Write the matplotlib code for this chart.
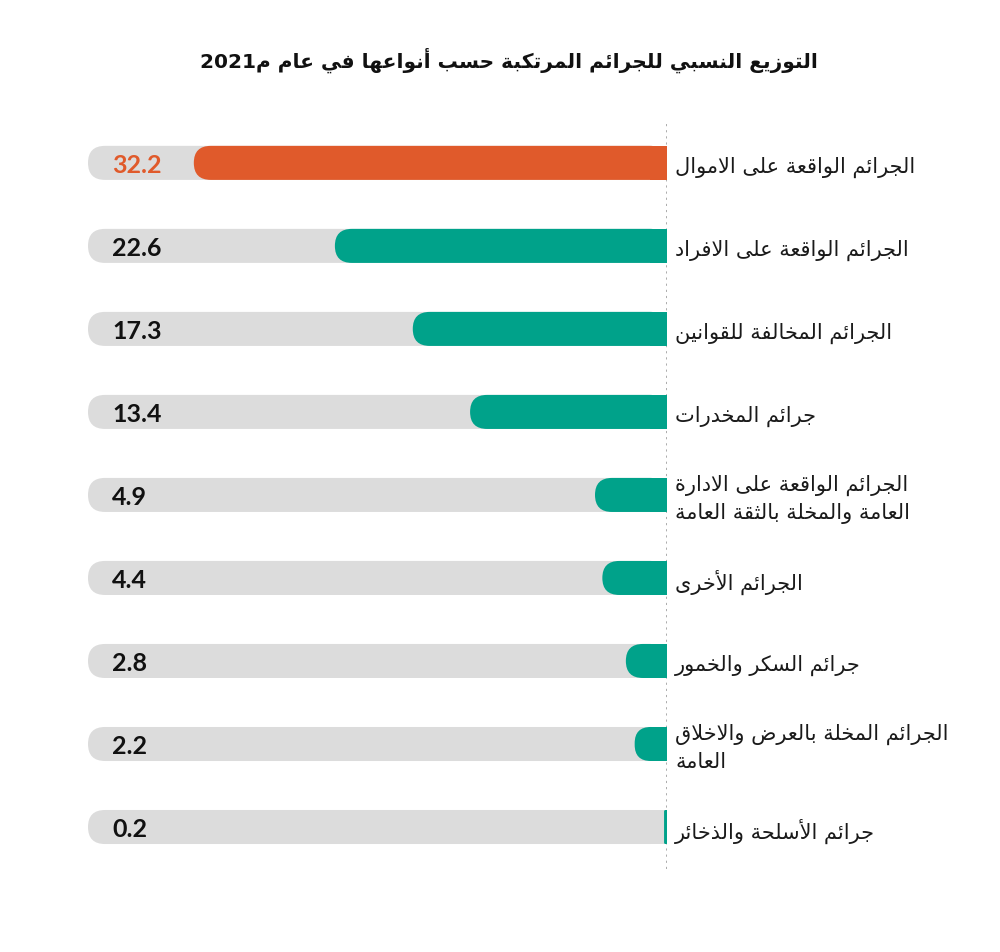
import matplotlib
matplotlib.use("Agg")
import matplotlib.pyplot as plt
from matplotlib.patches import FancyBboxPatch, Rectangle
from matplotlib.transforms import blended_transform_factory

title = "التوزيع النسبي للجرائم المرتكبة حسب أنواعها في عام 2021م"

categories = [
    "الجرائم الواقعة على الاموال",
    "الجرائم الواقعة على الافراد",
    "الجرائم المخالفة للقوانين",
    "جرائم المخدرات",
    "الجرائم الواقعة على الادارة\nالعامة والمخلة بالثقة العامة",
    "الجرائم الأخرى",
    "جرائم السكر والخمور",
    "الجرائم المخلة بالعرض والاخلاق\nالعامة",
    "جرائم الأسلحة والذخائر",
]
values = [32.2, 22.6, 17.3, 13.4, 4.9, 4.4, 2.8, 2.2, 0.2]

ORANGE = '#e05a2b'
TEAL = '#00a28a'
TRACK_GRAY = '#dcdcdc'
TRACK = 39.4

# --- tiny arabic shaper (matplotlib has no RTL / joining support) ---
DUAL = {'ئ': 0xFE89, 'ب': 0xFE8F, 'ت': 0xFE95, 'ث': 0xFE99, 'ج': 0xFE9D,
        'ح': 0xFEA1, 'خ': 0xFEA5, 'س': 0xFEB1, 'ش': 0xFEB5, 'ص': 0xFEB9,
        'ض': 0xFEBD, 'ط': 0xFEC1, 'ظ': 0xFEC5, 'ع': 0xFEC9, 'غ': 0xFECD,
        'ف': 0xFED1, 'ق': 0xFED5, 'ك': 0xFED9, 'ل': 0xFEDD, 'م': 0xFEE1,
        'ن': 0xFEE5, 'ه': 0xFEE9, 'ي': 0xFEF1}
RIGHT = {'آ': 0xFE81, 'أ': 0xFE83, 'ؤ': 0xFE85, 'إ': 0xFE87, 'ا': 0xFE8D,
         'ة': 0xFE93, 'د': 0xFEA9, 'ذ': 0xFEAB, 'ر': 0xFEAD, 'ز': 0xFEAF,
         'و': 0xFEED, 'ى': 0xFEEF}
LAM_ALEF = {'آ': 0xFEF5, 'أ': 0xFEF7, 'إ': 0xFEF9, 'ا': 0xFEFB}


def jtype(c):
    if isinstance(c, tuple) or c in RIGHT:
        return 'R'
    if c in DUAL:
        return 'D'
    return None


def shape_word(word):
    chars = []
    i = 0
    while i < len(word):
        if word[i] == 'ل' and i + 1 < len(word) and word[i + 1] in LAM_ALEF:
            chars.append(('LA', word[i + 1]))
            i += 2
        else:
            chars.append(word[i])
            i += 1
    out = []
    for k, c in enumerate(chars):
        t = jtype(c)
        prev = jtype(chars[k - 1]) if k > 0 else None
        nxt = jtype(chars[k + 1]) if k + 1 < len(chars) else None
        jp = t is not None and prev == 'D'
        jn = t == 'D' and nxt is not None
        if isinstance(c, tuple):
            out.append(chr(LAM_ALEF[c[1]] + (1 if jp else 0)))
        elif t is None:
            out.append(c)
        else:
            base = DUAL.get(c, RIGHT.get(c))
            off = 3 if (jp and jn) else 2 if jn else 1 if jp else 0
            out.append(chr(base + off))
    return ''.join(out)


def ar(text):
    lines = []
    for line in text.split('\n'):
        words = []
        for w in reversed(line.split(' ')):
            s = shape_word(w)
            words.append(s if any(ch.isdigit() for ch in w) else s[::-1])
        lines.append(' '.join(words))
    return '\n'.join(lines)


fig = plt.figure(figsize=(10, 9.53), dpi=100)
ax = fig.add_axes([0.088, 0.0876, 0.579, 0.784])
n = len(values)
ax.set_xlim(TRACK, 0)
ax.set_ylim(n - 0.5, -0.5)
ax.axis('off')

px_x = 0.579 * 1000 / TRACK
px_y = 0.784 * 953 / n
m = px_x / px_y
h = 0.41
r_full = (h / m) / 2

ax.axvline(0, color='#a5a5a5', ls=(0, (1.2, 2.2)), lw=1.3, zorder=0)

lbl_tr = blended_transform_factory(ax.transAxes, ax.transData)
for i, v in enumerate(values):
    col = ORANGE if v == max(values) else TEAL
    ax.add_patch(FancyBboxPatch((0, i - h / 2), TRACK, h,
                                boxstyle=f"round,pad=0,rounding_size={r_full}",
                                mutation_aspect=m, fc=TRACK_GRAY, ec='none', zorder=1))
    ax.add_patch(Rectangle((0, i - h / 2), r_full, h, fc=TRACK_GRAY, ec='none', zorder=1))
    r = min(r_full, v / 2)
    ax.add_patch(FancyBboxPatch((0, i - h / 2), v, h,
                                boxstyle=f"round,pad=0,rounding_size={r}",
                                mutation_aspect=m, fc=col, ec='none', zorder=2))
    ax.add_patch(Rectangle((0, i - h / 2), r, h, fc=col, ec='none', zorder=2))

    ax.text(0.042, i + 0.02, f"{v:.1f}", transform=lbl_tr, ha='left', va='center',
            fontsize=18, fontweight='bold', family='Lato',
            color=ORANGE if v == max(values) else '#111111')
    ax.text(1.014, i + 0.04, ar(categories[i]), transform=lbl_tr, ha='left',
            va='center', multialignment='left', fontsize=15, family='DejaVu Sans',
            color='#1a1a1a', linespacing=1.45, clip_on=False)

fig.text(0.509, 1 - 60 / 953, ar(title), ha='center', va='center',
         fontsize=14.5, fontweight='bold', family='DejaVu Sans', color='#111111')

fig.savefig('out.png', dpi=100, facecolor='white')
